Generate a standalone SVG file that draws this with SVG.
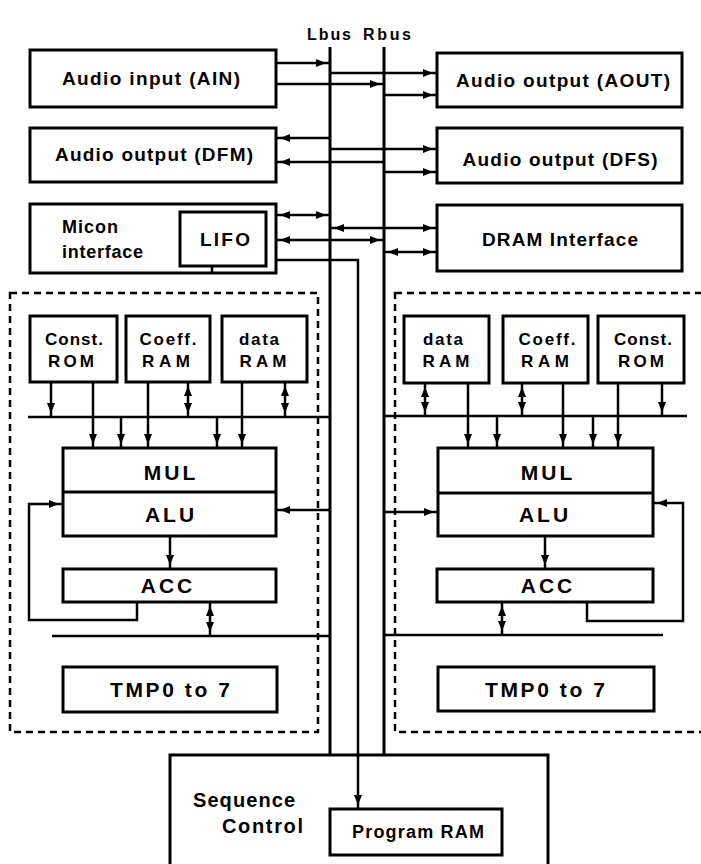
<svg xmlns="http://www.w3.org/2000/svg" width="701" height="864" viewBox="0 0 701 864">
<style>
.bx{fill:none;stroke:#000;stroke-width:3}
.dash{fill:none;stroke:#000;stroke-width:2.5;stroke-dasharray:7,5}
.bus{fill:none;stroke:#000;stroke-width:3}
.c{fill:none;stroke:#000;stroke-width:2.5}
.e{marker-end:url(#ah)}
.s{marker-start:url(#ah)}
.t{font-family:"Liberation Sans",Arial,sans-serif;font-weight:bold;fill:#000}
.m{text-anchor:middle}
.f19{font-size:19px}
.f17{font-size:17px}
.big{font-size:21px;letter-spacing:3px}
</style>
<defs>
<marker id="ah" viewBox="0 0 10 8" markerWidth="10" markerHeight="8" refX="14" refY="4" orient="auto-start-reverse" markerUnits="userSpaceOnUse">
<path d="M0,0 L10,4 L0,8 z" fill="#000"/>
</marker>
</defs>
<rect width="701" height="864" fill="#fff"/>

<g id="labels">
<text class="t" x="307" y="40" font-size="16" textLength="44" lengthAdjust="spacing">Lbus</text>
<text class="t" x="363" y="40" font-size="16" textLength="48" lengthAdjust="spacing">Rbus</text>
</g>

<g id="ain"><rect class="bx" x="30" y="50" width="246" height="57"/><text class="t m f19" x="151" y="85" textLength="178" lengthAdjust="spacing">Audio input (AIN)</text></g>
<g id="dfm"><rect class="bx" x="30" y="128" width="246" height="54"/><text class="t m f19" x="154" y="161" textLength="198" lengthAdjust="spacing">Audio output (DFM)</text></g>
<g id="micon"><rect class="bx" x="30" y="204" width="246" height="69"/><text class="t" x="62" y="233" font-size="18" textLength="56" lengthAdjust="spacing">Micon</text><text class="t" x="62" y="258" font-size="18" textLength="81" lengthAdjust="spacing">interface</text></g>
<g id="lifo"><rect class="bx" x="180" y="212" width="86" height="54"/><text class="t m" x="225" y="246" font-size="19" textLength="50" lengthAdjust="spacing">LIFO</text></g>
<g id="aout"><rect class="bx" x="437" y="53" width="245" height="54"/><text class="t m f19" x="563" y="87" textLength="214" lengthAdjust="spacing">Audio output (AOUT)</text></g>
<g id="dfs"><rect class="bx" x="437" y="128" width="245" height="55"/><text class="t m f19" x="560" y="166" textLength="195" lengthAdjust="spacing">Audio output (DFS)</text></g>
<g id="dram"><rect class="bx" x="437" y="205" width="245" height="66"/><text class="t m f19" x="560" y="246" textLength="156" lengthAdjust="spacing">DRAM Interface</text></g>

<g id="left-proc">
<rect class="dash" x="10" y="293" width="308" height="439"/>
<g id="l-crom"><rect class="bx" x="30" y="316" width="87" height="66"/><text class="t m f17" x="74" y="345" textLength="58" lengthAdjust="spacing">Const.</text><text class="t m f17" x="71" y="367" textLength="46" lengthAdjust="spacing">ROM</text></g>
<g id="l-cram"><rect class="bx" x="126" y="316" width="84" height="66"/><text class="t m f17" x="168" y="345" textLength="57" lengthAdjust="spacing">Coeff.</text><text class="t m f17" x="166" y="367" textLength="48" lengthAdjust="spacing">RAM</text></g>
<g id="l-dram"><rect class="bx" x="222" y="316" width="85" height="66"/><text class="t m f17" x="259" y="345" textLength="40" lengthAdjust="spacing">data</text><text class="t m f17" x="263" y="367" textLength="47" lengthAdjust="spacing">RAM</text></g>
<g id="l-mulalu"><rect class="bx" x="63" y="448" width="213" height="88"/><line class="bx" x1="63" y1="492" x2="276" y2="492"/><text class="t m big" x="171" y="480">MUL</text><text class="t m big" x="171" y="522">ALU</text></g>
<g id="l-acc"><rect class="bx" x="63" y="569" width="213" height="33"/><text class="t m big" x="168" y="593">ACC</text></g>
<g id="l-tmp"><rect class="bx" x="63" y="667" width="214" height="45"/><text class="t m" x="170" y="697" font-size="21" textLength="120" lengthAdjust="spacing">TMP0 to 7</text></g>
</g>

<g id="right-proc">
<rect class="dash" x="395" y="293" width="320" height="439"/>
<g id="r-dram"><rect class="bx" x="404" y="316" width="85" height="67"/><text class="t m f17" x="443" y="345" textLength="40" lengthAdjust="spacing">data</text><text class="t m f17" x="446" y="367" textLength="47" lengthAdjust="spacing">RAM</text></g>
<g id="r-cram"><rect class="bx" x="503" y="316" width="85" height="67"/><text class="t m f17" x="547" y="345" textLength="57" lengthAdjust="spacing">Coeff.</text><text class="t m f17" x="545" y="367" textLength="48" lengthAdjust="spacing">RAM</text></g>
<g id="r-crom"><rect class="bx" x="598" y="316" width="86" height="67"/><text class="t m f17" x="643" y="345" textLength="58" lengthAdjust="spacing">Const.</text><text class="t m f17" x="641" y="367" textLength="46" lengthAdjust="spacing">ROM</text></g>
<g id="r-mulalu"><rect class="bx" x="438" y="448" width="215" height="88"/><line class="bx" x1="438" y1="493" x2="653" y2="493"/><text class="t m big" x="548" y="480">MUL</text><text class="t m big" x="545" y="522">ALU</text></g>
<g id="r-acc"><rect class="bx" x="437" y="569" width="216" height="33"/><text class="t m big" x="548" y="593">ACC</text></g>
<g id="r-tmp"><rect class="bx" x="438" y="667" width="216" height="44"/><text class="t m" x="545" y="697" font-size="21" textLength="120" lengthAdjust="spacing">TMP0 to 7</text></g>
</g>

<g id="seq">
<path class="bx" d="M170,870 L170,755 L548,755 L548,870"/>
<text class="t" x="193" y="807" font-size="20" textLength="102" lengthAdjust="spacing">Sequence</text>
<text class="t" x="222" y="833" font-size="20" textLength="81" lengthAdjust="spacing">Control</text>
<g id="pram"><rect class="bx" x="330" y="809" width="172" height="46"/><text class="t m" x="418" y="838" font-size="18" textLength="132" lengthAdjust="spacing">Program RAM</text></g>
</g>

<g id="connectors">
<line class="bus" x1="330" y1="47" x2="330" y2="755"/>
<line class="bus" x1="384" y1="47" x2="384" y2="755"/>
<path class="c e" d="M276,260 L358,260 L358,809"/>
<path class="c e" d="M276,63 L330,63"/>
<path class="c e" d="M330,73 L437,73"/>
<path class="c e" d="M276,84 L384,84"/>
<path class="c e" d="M384,95 L437,95"/>
<path class="c e" d="M330,138 L276,138"/>
<path class="c e" d="M330,149 L437,149"/>
<path class="c e" d="M384,162 L276,162"/>
<path class="c e" d="M384,172 L437,172"/>
<path class="c s e" d="M276,215 L330,215"/>
<path class="c s e" d="M330,228 L437,228"/>
<path class="c s e" d="M276,240 L384,240"/>
<path class="c s e" d="M384,252 L437,252"/>
<line class="c" x1="212" y1="266" x2="212" y2="273"/>

<line class="c" x1="28" y1="417" x2="330" y2="417"/>
<path class="c e" d="M51,382 L51,417"/>
<path class="c e" d="M93,382 L93,448"/>
<path class="c e" d="M121,417 L121,448"/>
<path class="c e" d="M148,382 L148,448"/>
<path class="c s e" d="M188,382 L188,417"/>
<path class="c e" d="M217,417 L217,448"/>
<path class="c e" d="M242,382 L242,448"/>
<path class="c s e" d="M285,382 L285,417"/>
<path class="c e" d="M330,510 L276,510"/>
<path class="c e" d="M137,602 L137,620 L29,620 L29,504 L63,504"/>
<path class="c e" d="M170,536 L170,569"/>
<line class="c" x1="52" y1="636" x2="330" y2="636"/>
<path class="c s e" d="M210,602 L210,636"/>

<line class="c" x1="384" y1="416" x2="687" y2="416"/>
<path class="c s e" d="M425,383 L425,416"/>
<path class="c e" d="M468,383 L468,448"/>
<path class="c e" d="M497,416 L497,448"/>
<path class="c s e" d="M522,383 L522,416"/>
<path class="c e" d="M563,383 L563,448"/>
<path class="c e" d="M593,416 L593,448"/>
<path class="c e" d="M618,383 L618,448"/>
<path class="c e" d="M662,383 L662,416"/>
<path class="c e" d="M384,512 L438,512"/>
<path class="c e" d="M587,602 L587,621 L683,621 L683,503 L653,503"/>
<path class="c e" d="M545,536 L545,569"/>
<line class="c" x1="384" y1="635" x2="663" y2="635"/>
<path class="c s e" d="M502,602 L502,635"/>
</g>
</svg>
